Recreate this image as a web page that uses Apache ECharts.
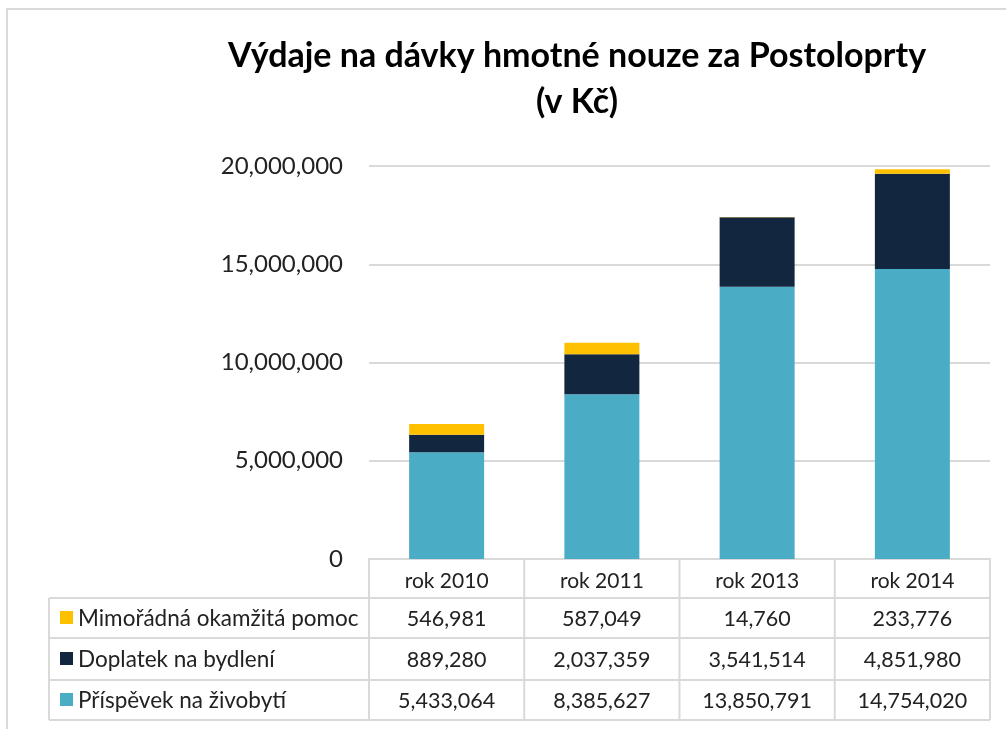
<!DOCTYPE html>
<html>
<head>
<meta charset="utf-8">
<script src="https://cdn.jsdelivr.net/npm/echarts@6/dist/echarts.min.js"></script>
<style>
html,body{margin:0;padding:0;background:#fff;}
#c{width:1006px;height:729px;}
</style>
</head>
<body>
<div id="c"></div>
<script>
const categories = ['rok 2010', 'rok 2011', 'rok 2013', 'rok 2014'];
const seriesNames = ['Mimořádná okamžitá pomoc', 'Doplatek na bydlení', 'Příspěvek na živobytí'];
const mimoradna = [546981, 587049, 14760, 233776];
const doplatek = [889280, 2037359, 3541514, 4851980];
const prispevek = [5433064, 8385627, 13850791, 14754020];
const colors = ['#FFC000', '#13263F', '#4BACC6'];
const yTicks = [0, 5000000, 10000000, 15000000, 20000000];

const FONT = 'Lato';
const fmt = v => v.toLocaleString('en-US');

const chart = echarts.init(document.getElementById('c'), null, {renderer: 'canvas'});

const option = {
  animation: false,
  backgroundColor: '#fff',
  title: {
    text: 'Výdaje na dávky hmotné nouze za Postoloprty\n(v Kč)',
    left: 572, top: 28, textAlign: 'center',
    textStyle: {fontFamily: FONT, fontWeight: 'bold', fontSize: 34, color: '#000', lineHeight: 46}
  },
  grid: {left: 369, right: 16, top: 166, bottom: 170, containLabel: false},
  xAxis: {
    type: 'category', data: categories,
    axisLine: {show: true, lineStyle: {color: '#D9D9D9', width: 2}},
    axisTick: {show: false},
    axisLabel: {fontFamily: FONT, fontSize: 21, color: '#222', margin: 12}
  },
  yAxis: {
    type: 'value', min: yTicks[0], max: yTicks[yTicks.length - 1], interval: yTicks[1] - yTicks[0],
    axisLine: {show: false}, axisTick: {show: false},
    splitLine: {lineStyle: {color: '#D9D9D9', width: 2}},
    axisLabel: {fontFamily: FONT, fontSize: 24, color: '#222', margin: 26, formatter: v => fmt(v)}
  },
  series: [
    {name: seriesNames[2], type: 'bar', stack: 's', data: prispevek, barWidth: 75, itemStyle: {color: colors[2]}},
    {name: seriesNames[1], type: 'bar', stack: 's', data: doplatek, barWidth: 75, itemStyle: {color: colors[1]}},
    {name: seriesNames[0], type: 'bar', stack: 's', data: mimoradna, barWidth: 75, itemStyle: {color: colors[0]}}
  ]
};
chart.setOption(option);

// Data table drawn under the axis
const rows = [
  {name: seriesNames[0], color: colors[0], vals: mimoradna},
  {name: seriesNames[1], color: colors[1], vals: doplatek},
  {name: seriesNames[2], color: colors[2], vals: prispevek}
];
const tableLeft = 49, gridL = 369, gridR = 990;
const yTop = 559, yH = 598, rowH = [598, 638, 680, 720];
const colW = (gridR - gridL) / categories.length;
const g = [];
const lineStyle = {stroke: '#D9D9D9', lineWidth: 2};
for (let i = 0; i <= categories.length; i++) {
  const x = gridL + i * colW;
  g.push({type: 'line', shape: {x1: x, y1: yTop, x2: x, y2: 720}, style: lineStyle, silent: true});
}
g.push({type: 'line', shape: {x1: tableLeft, y1: yH, x2: tableLeft, y2: 720}, style: lineStyle});
for (let r = 0; r < rowH.length; r++) {
  g.push({type: 'line', shape: {x1: tableLeft, y1: rowH[r], x2: gridR, y2: rowH[r]}, style: lineStyle});
}
rows.forEach((row, r) => {
  const cy = (rowH[r] + rowH[r + 1]) / 2;
  g.push({type: 'rect', shape: {x: 60, y: cy - 7, width: 13, height: 13}, style: {fill: row.color}});
  g.push({type: 'text', x: 78, y: cy + 1, style: {text: row.name, fontFamily: FONT, fontSize: 22.5, fill: '#222', verticalAlign: 'middle', align: 'left'}});
  row.vals.forEach((v, i) => {
    const cx = chart.convertToPixel({xAxisIndex: 0}, categories[i]);
    g.push({type: 'text', x: cx, y: cy + 1, style: {text: fmt(v), fontFamily: FONT, fontSize: 21.5, fill: '#222', verticalAlign: 'middle', align: 'center'}});
  });
});
g.push({type: 'rect', shape: {x: 7, y: 9, width: 1010, height: 740}, style: {fill: 'none', stroke: '#D9D9D9', lineWidth: 2}});
chart.setOption({graphic: g});
</script>
</body>
</html>
